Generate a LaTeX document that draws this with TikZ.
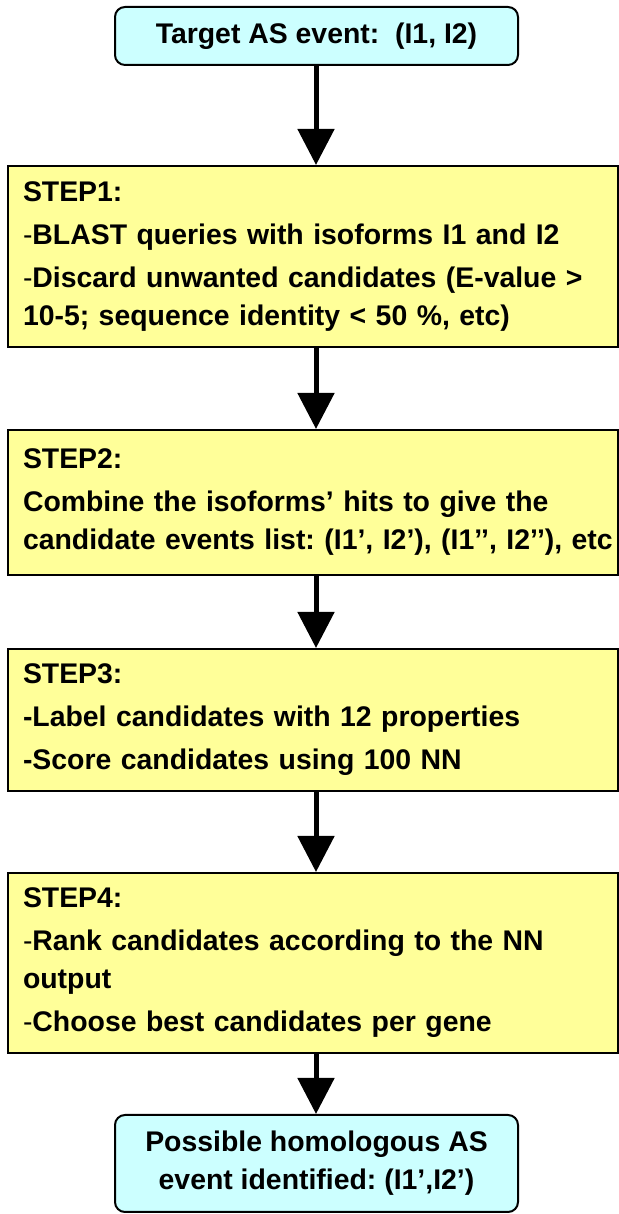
\documentclass[tikz,border=0pt]{standalone}
\usepackage{fontspec}
\setmainfont{Liberation Sans}
\usetikzlibrary{arrows.meta}
\definecolor{stepyellow}{HTML}{FFFF99}
\definecolor{endcyan}{HTML}{CCFFFF}
\frenchspacing
\tikzset{
	boxfont/.style={font=\bfseries\fontsize{14.2}{19}\selectfont},
	endbox/.style={boxfont, draw, line width=1pt, fill=endcyan, rounded corners=5pt, minimum width=201.5pt, align=center, inner sep=2pt},
	stepbox/.style={boxfont, draw, line width=1pt, fill=stepyellow, text width=290pt, inner xsep=7.5pt, inner ysep=2pt, align=left},
	flow/.style={line width=2.5pt, -{Triangle[width=18pt,length=18pt]}}
}
\begin{document}
\begin{tikzpicture}
		\useasboundingbox (0,0) rectangle (309.5pt,607pt);
		
		\node[endbox, minimum height=29pt] at (158.25pt,589pt) (target) {Target AS event:~ (I1, I2)};
		
		\node[stepbox, minimum height=90.5pt] at (156.5pt,478.75pt) (step1) {STEP1:\\[2.5pt]
			{\mdseries -}BLAST queries with isoforms I1 and I2\\[2.5pt]
			{\mdseries -}Discard unwanted candidates (E-value >\\
			10-5; sequence identity < 50 \%, etc)};
		\node[stepbox, minimum height=72.5pt] at (156.5pt,355.75pt) (step2) {STEP2:\\[2.5pt]
			Combine the isoforms’ hits to give the\\
			\mbox{candidate events list: (I1’, I2’), (I1’’, I2’’), etc}};
		\node[stepbox, minimum height=71pt] at (156.5pt,247pt) (step3) {STEP3:\\[2.5pt]
			-Label candidates with 12 properties\\[2.5pt]
			-Score candidates using 100 NN};
		\node[stepbox, minimum height=90pt] at (156.5pt,125.5pt) (step4) {STEP4:\\[2.5pt]
			{\mdseries -}Rank candidates according to the NN\\
			output\\[2.5pt]
			{\mdseries -}Choose best candidates per gene};
		
		\node[endbox, minimum height=48.5pt] at (158.25pt,25.25pt) (result) {Possible homologous AS\\event identified: (I1’,I2’)};
		
		\draw[flow] (target.south -| 158pt,0) -- (step1.north -| 158pt,0);
		\draw[flow] (step1.south -| 158pt,0) -- (step2.north -| 158pt,0);
		\draw[flow] (step2.south -| 158pt,0) -- (step3.north -| 158pt,0);
		\draw[flow] (step3.south -| 158pt,0) -- (step4.north -| 158pt,0);
		\draw[flow] (step4.south -| 158pt,0) -- (result.north -| 158pt,0);
	\end{tikzpicture}
\end{document}
